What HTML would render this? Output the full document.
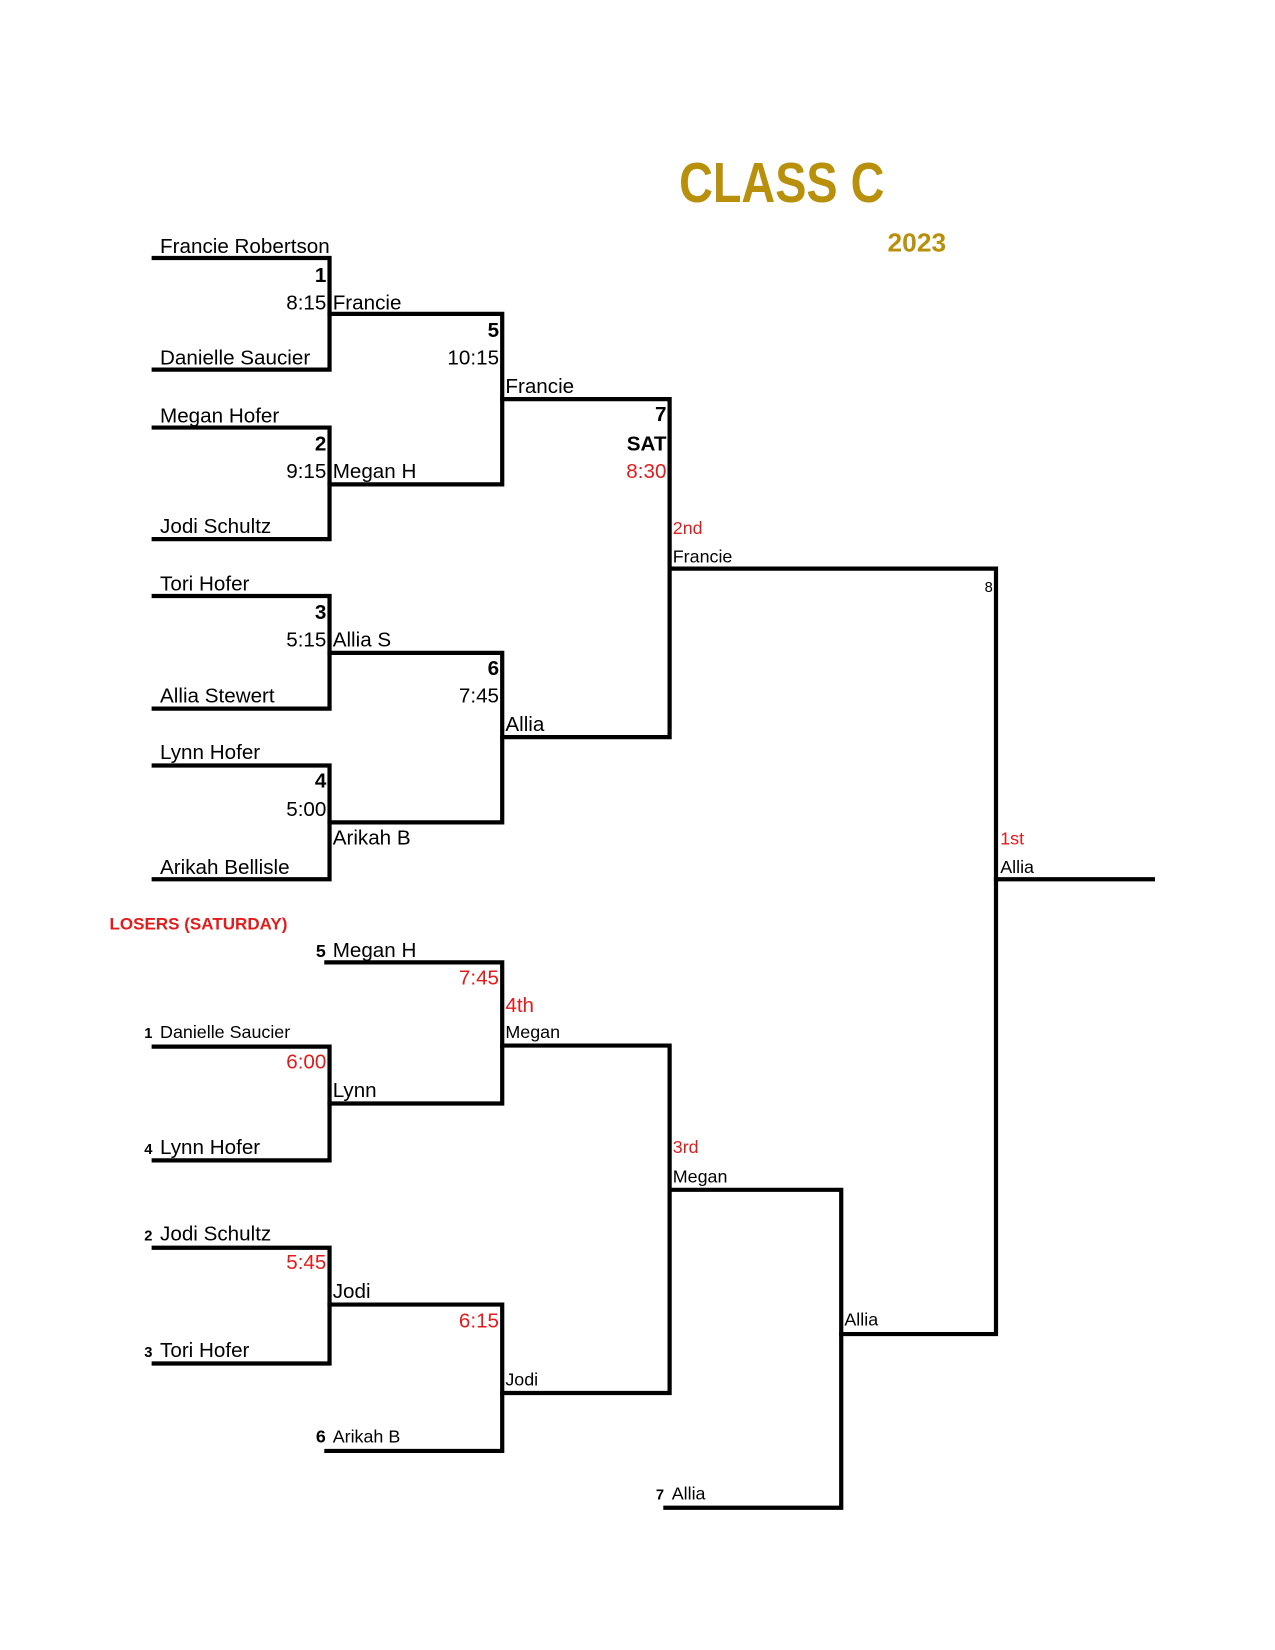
<!DOCTYPE html>
<html><head><meta charset="utf-8"><style>
html,body{margin:0;padding:0;background:#fff;}
svg{display:block;}
text{font-family:"Liberation Sans",Arial,sans-serif;font-size:19.6px;fill:#000;}
.b{font-weight:bold;}
.r{fill:#e31b1b;}
.s{font-size:17px;}
.e{text-anchor:end;}
</style></head><body>
<svg width="1275" height="1650" viewBox="0 0 1211 1567" xmlns="http://www.w3.org/2000/svg">
<g stroke="#000" stroke-width="4" fill="none" stroke-linecap="square">
<path d="M146 245H313V351H146"/>
<path d="M313 298H477V460H313"/>
<path d="M146 406H313V512H146"/>
<path d="M477 379H636V700H477"/>
<path d="M146 566H313V673H146"/>
<path d="M313 620H477V781H313"/>
<path d="M146 727H313V835H146"/>
<path d="M636 540H946V1267H799"/>
<path d="M946 835H1095"/>
<path d="M310 914H477V1048H313"/>
<path d="M146 994H313V1102H146"/>
<path d="M477 993H636V1323H477"/>
<path d="M146 1185H313V1295H146"/>
<path d="M313 1239H477V1378H310"/>
<path d="M636 1130H799V1432H632"/>
</g>
<text x="645" y="192" class="b" style="font-size:54px;fill:#b8900c" textLength="195" lengthAdjust="spacingAndGlyphs">CLASS C</text>
<text x="843" y="239" class="b" style="font-size:25px;fill:#b8900c">2023</text>

<text x="152" y="240">Francie Robertson</text>
<text x="310" y="268" class="b e">1</text>
<text x="310" y="294" class="e">8:15</text>
<text x="316" y="294">Francie</text>
<text x="152" y="346">Danielle Saucier</text>
<text x="474" y="320" class="b e">5</text>
<text x="474" y="346" class="e">10:15</text>
<text x="480" y="373">Francie</text>
<text x="152" y="401">Megan Hofer</text>
<text x="310" y="428" class="b e">2</text>
<text x="310" y="454" class="e">9:15</text>
<text x="316" y="454">Megan H</text>
<text x="152" y="506">Jodi Schultz</text>
<text x="633" y="400" class="b e">7</text>
<text x="633" y="428" class="b e">SAT</text>
<text x="633" y="454" class="r e">8:30</text>
<text x="639" y="507" class="r s">2nd</text>
<text x="639" y="534" class="s">Francie</text>
<text x="943" y="562" class="s e" style="font-size:14px">8</text>
<text x="152" y="561">Tori Hofer</text>
<text x="310" y="588" class="b e">3</text>
<text x="310" y="614" class="e">5:15</text>
<text x="316" y="614">Allia S</text>
<text x="152" y="667">Allia Stewert</text>
<text x="474" y="641" class="b e">6</text>
<text x="474" y="667" class="e">7:45</text>
<text x="480" y="694">Allia</text>
<text x="152" y="721">Lynn Hofer</text>
<text x="310" y="748" class="b e">4</text>
<text x="310" y="775" class="e">5:00</text>
<text x="316" y="802">Arikah B</text>
<text x="152" y="830">Arikah Bellisle</text>
<text x="950" y="802" class="r s">1st</text>
<text x="950" y="829" class="s">Allia</text>

<text x="104" y="883" class="b r" style="font-size:16px" textLength="169" lengthAdjust="spacingAndGlyphs">LOSERS (SATURDAY)</text>
<text x="300" y="909" class="b s">5</text>
<text x="316" y="909">Megan H</text>
<text x="474" y="935" class="r e">7:45</text>
<text x="480" y="961" class="r">4th</text>
<text x="480" y="986" class="s">Megan</text>
<text x="137" y="986" class="b" style="font-size:14px">1</text>
<text x="152" y="986" class="s">Danielle Saucier</text>
<text x="310" y="1015" class="r e">6:00</text>
<text x="316" y="1042">Lynn</text>
<text x="137" y="1096" class="b" style="font-size:14px">4</text>
<text x="152" y="1096">Lynn Hofer</text>
<text x="137" y="1178" class="b" style="font-size:14px">2</text>
<text x="152" y="1178">Jodi Schultz</text>
<text x="310" y="1205" class="r e">5:45</text>
<text x="316" y="1233">Jodi</text>
<text x="137" y="1289" class="b" style="font-size:14px">3</text>
<text x="152" y="1289">Tori Hofer</text>
<text x="474" y="1261" class="r e">6:15</text>
<text x="480" y="1316" class="s">Jodi</text>
<text x="300" y="1370" class="b s">6</text>
<text x="316" y="1370" class="s">Arikah B</text>
<text x="639" y="1095" class="r s">3rd</text>
<text x="639" y="1123" class="s">Megan</text>
<text x="802" y="1259" class="s">Allia</text>
<text x="623" y="1424" class="b" style="font-size:14px">7</text>
<text x="638" y="1424" class="s">Allia</text>
</svg>
</body></html>
